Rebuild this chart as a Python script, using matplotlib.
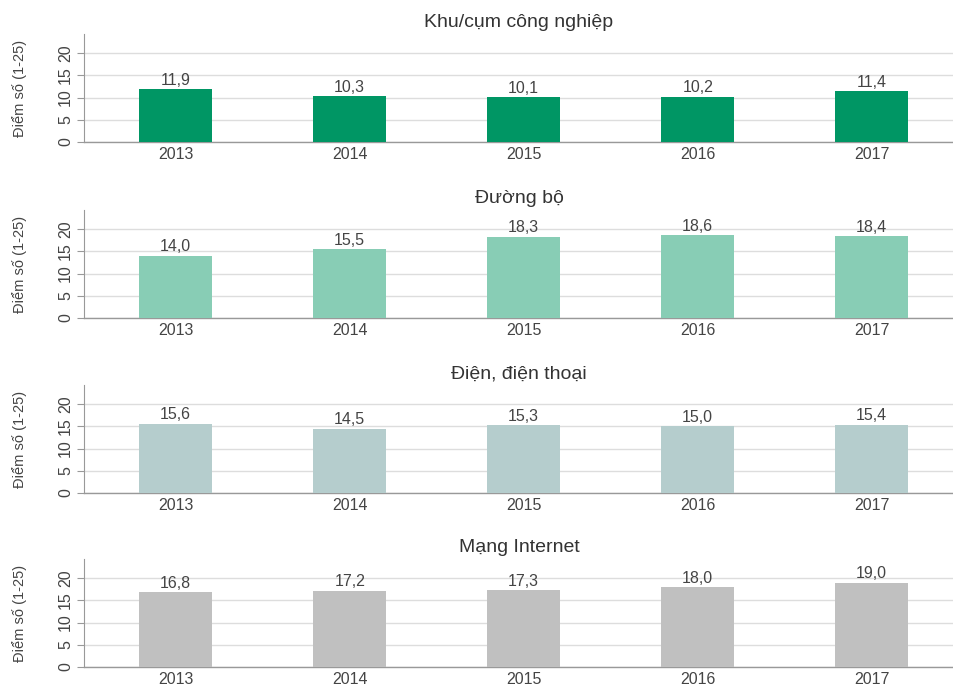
import matplotlib
matplotlib.use("Agg")
import matplotlib.pyplot as plt

years = ["2013", "2014", "2015", "2016", "2017"]
titles = ["Khu/cụm công nghiệp", "Đường bộ", "Điện, điện thoại", "Mạng Internet"]
khu_cum = [11.9, 10.3, 10.1, 10.2, 11.4]
duong_bo = [14.0, 15.5, 18.3, 18.6, 18.4]
dien_thoai = [15.6, 14.5, 15.3, 15.0, 15.4]
internet = [16.8, 17.2, 17.3, 18.0, 19.0]
series = [khu_cum, duong_bo, dien_thoai, internet]
colors = ["#009664", "#88CDB5", "#B5CDCD", "#C0C0C0"]
yticks = [0, 5, 10, 15, 20]
ylabel = "Điểm số (1-25)"

plt.rcParams['font.family'] = ['Liberation Sans', 'DejaVu Sans']
W, H = 954, 689
fig = plt.figure(figsize=(W / 100, H / 100), dpi=100)

bottoms_px = [142, 318, 493, 667]
ax_h_px = 108
left_px = 84
right_px = 954
txt = "#444444"

for k in range(4):
    b = bottoms_px[k]
    ax = fig.add_axes([left_px / W, 1 - b / H, (right_px - left_px) / W, ax_h_px / H])
    x = list(range(len(years)))
    ax.bar(x, series[k], width=0.42, color=colors[k], zorder=3)
    for xi, v in zip(x, series[k]):
        ax.annotate(f"{v:.1f}".replace(".", ","), (xi, v), xytext=(0, 1.0),
                    textcoords="offset points", ha="center", va="bottom",
                    fontsize=11.5, color=txt, zorder=4)
    ax.set_xlim(-0.527, 4.473)
    ax.set_ylim(0, 24.3)
    ax.set_yticks(yticks)
    ax.set_yticklabels([str(t) for t in yticks], rotation=90, va="center",
                       fontsize=11.5, color=txt)
    ax.set_xticks(x)
    ax.set_xticklabels(years, fontsize=11.5, color=txt)
    ax.tick_params(axis="x", length=0, pad=3.5)
    ax.tick_params(axis="y", length=5, width=0.8, color="#999999", pad=3)
    ax.grid(axis="y", color="#dddddd", linewidth=1.0, zorder=0)
    for s in ["top", "right"]:
        ax.spines[s].set_visible(False)
    ax.spines["left"].set_color("#999999")
    ax.spines["left"].set_linewidth(0.8)
    ax.spines["bottom"].set_color("#999999")
    ax.spines["bottom"].set_linewidth(1.0)
    ax.set_title(titles[k], fontsize=14, color="#333333", pad=5)
    ax.set_ylabel(ylabel, fontsize=10.5, color=txt)
    ax.yaxis.set_label_coords(-0.065, 0.5)

fig.savefig("out.png", dpi=100)
